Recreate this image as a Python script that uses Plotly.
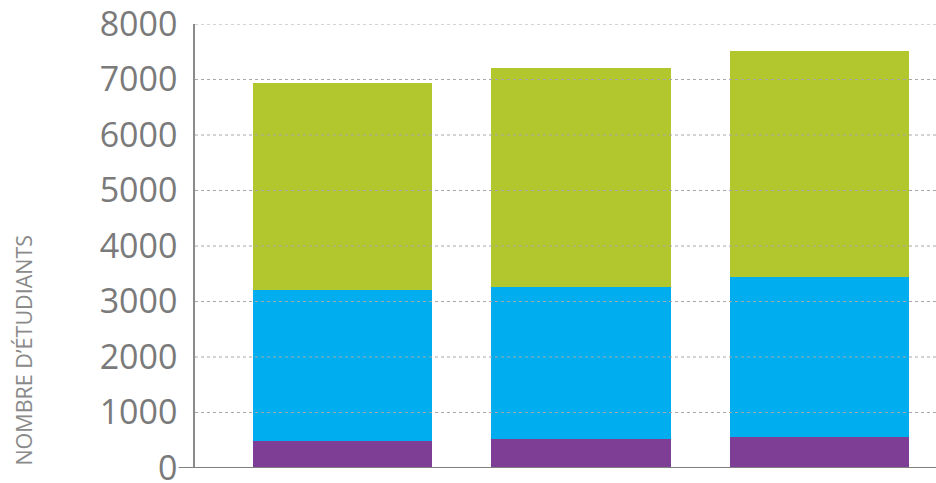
import plotly.graph_objects as go

categories = ["2011", "2012", "2013"]
series_names = ["Doctorat", "Maîtrise", "Baccalauréat"]
purple_vals = [490, 530, 560]
blue_vals = [2720, 2730, 2880]
green_vals = [3730, 3950, 4080]
y_ticks = [0, 1000, 2000, 3000, 4000, 5000, 6000, 7000, 8000]
y_title = "NOMBRE D’ÉTUDIANTS"

colors = ["#7F3E96", "#00ADEE", "#B2C72D"]

fig = go.Figure()
for name, vals, col in zip(series_names, [purple_vals, blue_vals, green_vals], colors):
    fig.add_trace(go.Bar(x=categories, y=vals, name=name, marker=dict(color=col, line=dict(width=0))))

# dotted gridlines drawn above bars
for t in y_ticks[1:]:
    fig.add_shape(type="line", xref="paper", yref="y", x0=0, x1=1, y0=t, y1=t,
                  line=dict(color="#a8a8a8", width=1, dash="dot"), layer="above")
# x axis baseline extending to the "0" label
fig.add_shape(type="line", xref="paper", yref="y", x0=-0.022, x1=1, y0=0, y1=0,
              line=dict(color="#808080", width=2), layer="above")

fig.add_annotation(text=y_title, xref="paper", yref="paper", x=-0.232, y=0.0,
                   xanchor="center", yanchor="bottom", textangle=-90, showarrow=False,
                   font=dict(family="Open Sans", size=21.5, color="#8a8a8a"))

fig.update_layout(
    width=936, height=483,
    margin=dict(l=195, r=0, t=24, b=15, autoexpand=False),
    barmode="stack", bargap=0.247,
    showlegend=False,
    plot_bgcolor="white", paper_bgcolor="white",
    font=dict(family="Open Sans", color="#777777"),
)
fig.update_xaxes(range=[-0.62, 2.49], showticklabels=False, showgrid=False, zeroline=False,
                 showline=False, ticks="")
fig.update_yaxes(range=[0, 8000], tickvals=y_ticks, showgrid=False, zeroline=False,
                 showline=True, linecolor="#8a8a8a", linewidth=1.5, ticks="",
                 tickfont=dict(family="Open Sans", size=34, color="#7a7a7a"),
                 ticklabelstandoff=9, ticklabeloverflow="allow", automargin=False)

fig.write_html("out.html", post_script="document.body.style.margin='0';",
               config={"displayModeBar": False})
